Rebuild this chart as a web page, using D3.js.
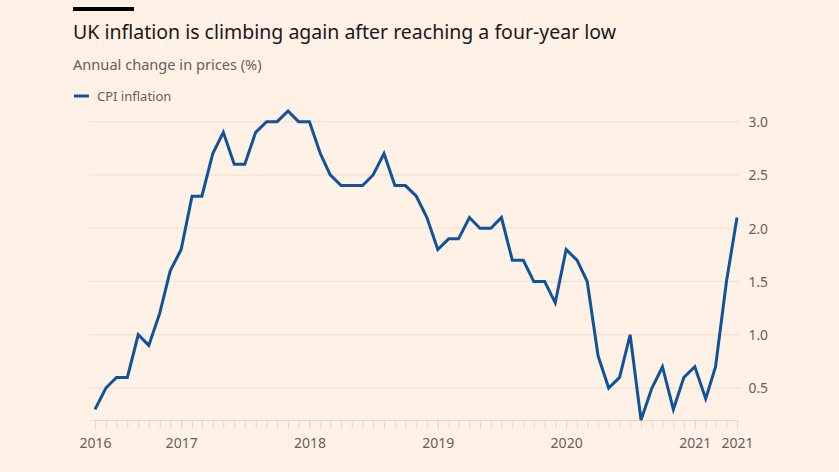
<!DOCTYPE html>
<html><head><meta charset="utf-8">
<script src="https://cdn.jsdelivr.net/npm/d3@7"></script>
<style>
html,body{margin:0;padding:0;background:#fff1e5;}
svg{display:block;}
</style></head>
<body>
<svg id="chart" width="839" height="472"></svg>
<script>
const title = "UK inflation is climbing again after reaching a four-year low";
const subtitle = "Annual change in prices (%)";
const seriesName = "CPI inflation";
const startMonth = "2016-05";
const cpi = [
  0.3, 0.5, 0.6, 0.6, 1.0, 0.9, 1.2, 1.6,
  1.8, 2.3, 2.3, 2.7, 2.9, 2.6, 2.6, 2.9, 3.0, 3.0, 3.1, 3.0,
  3.0, 2.7, 2.5, 2.4, 2.4, 2.4, 2.5, 2.7, 2.4, 2.4, 2.3, 2.1,
  1.8, 1.9, 1.9, 2.1, 2.0, 2.0, 2.1, 1.7, 1.7, 1.5, 1.5, 1.3,
  1.8, 1.7, 1.5, 0.8, 0.5, 0.6, 1.0, 0.2, 0.5, 0.7, 0.3, 0.6,
  0.7, 0.4, 0.7, 1.5, 2.1
];
const yTicks = [0.5, 1.0, 1.5, 2.0, 2.5, 3.0];

const parse = d3.timeParse("%Y-%m");
const t0 = parse(startMonth);
const data = cpi.map((v, i) => ({date: d3.timeMonth.offset(t0, i), value: v}));

const svg = d3.select("#chart");
const font = "'Noto Sans', sans-serif";

// header
svg.append("rect").attr("x", 73).attr("y", 7).attr("width", 61).attr("height", 4).attr("fill", "#000");
svg.append("text").attr("x", 73).attr("y", 39).text(title)
  .attr("font-family", font).attr("font-size", 19.5).attr("fill", "#1a1817");
svg.append("text").attr("x", 73).attr("y", 70).text(subtitle)
  .attr("font-family", font).attr("font-size", 14.6).attr("fill", "#66605c");
svg.append("line").attr("x1", 74).attr("x2", 89).attr("y1", 96).attr("y2", 96)
  .attr("stroke", "#0f5499").attr("stroke-width", 3);
svg.append("text").attr("x", 97).attr("y", 101).text(seriesName)
  .attr("font-family", font).attr("font-size", 13).attr("fill", "#66605c");

const x = d3.scaleTime().domain(d3.extent(data, d => d.date)).range([95, 737]);
const y = d3.scaleLinear().domain(d3.extent(data, d => d.value)).range([420, 111]);

// gridlines
svg.append("g").selectAll("line").data(yTicks).join("line")
  .attr("x1", 89).attr("x2", 740)
  .attr("y1", d => y(d)).attr("y2", d => y(d))
  .attr("stroke", "#f2dfce").attr("stroke-width", 1);

// y labels
const yAxis = d3.axisRight(y).tickValues(yTicks).tickFormat(d3.format(".1f")).tickSize(0).tickPadding(0);
const gy = svg.append("g").attr("transform", "translate(768,0)").call(yAxis);
gy.select(".domain").remove();
gy.selectAll("text").attr("text-anchor", "end").attr("dy", "0.35em")
  .attr("font-family", font).attr("font-size", 13.8).attr("fill", "#66605c");

// x axis: monthly minor ticks
const months = d3.timeMonth.range(x.domain()[0], d3.timeMonth.offset(x.domain()[1], 1));
const gxm = svg.append("g").attr("transform", "translate(0,420)")
  .call(d3.axisBottom(x).tickValues(months).tickSize(8).tickFormat(""));
gxm.select(".domain").attr("stroke", "#e3d5c8").attr("d", `M92,0.5H739`);
gxm.selectAll(".tick line").attr("stroke", "#e3d5c8");

const labelDates = [x.domain()[0], ...d3.timeYear.range(x.domain()[0], x.domain()[1]), x.domain()[1]];
const gx = svg.append("g").attr("transform", "translate(0,420)")
  .call(d3.axisBottom(x).tickValues(labelDates).tickSize(9).tickPadding(9).tickFormat(d3.timeFormat("%Y")));
gx.select(".domain").remove();
gx.selectAll(".tick line").attr("stroke", "#e3d5c8");
gx.selectAll("text").attr("font-family", font).attr("font-size", 14).attr("fill", "#66605c");

// line
const line = d3.line().x(d => x(d.date)).y(d => y(d.value));
svg.append("path").datum(data).attr("d", line)
  .attr("fill", "none").attr("stroke", "#0f5499").attr("stroke-width", 3)
  .attr("stroke-linejoin", "miter").attr("stroke-miterlimit", 4);
</script>
</body></html>
